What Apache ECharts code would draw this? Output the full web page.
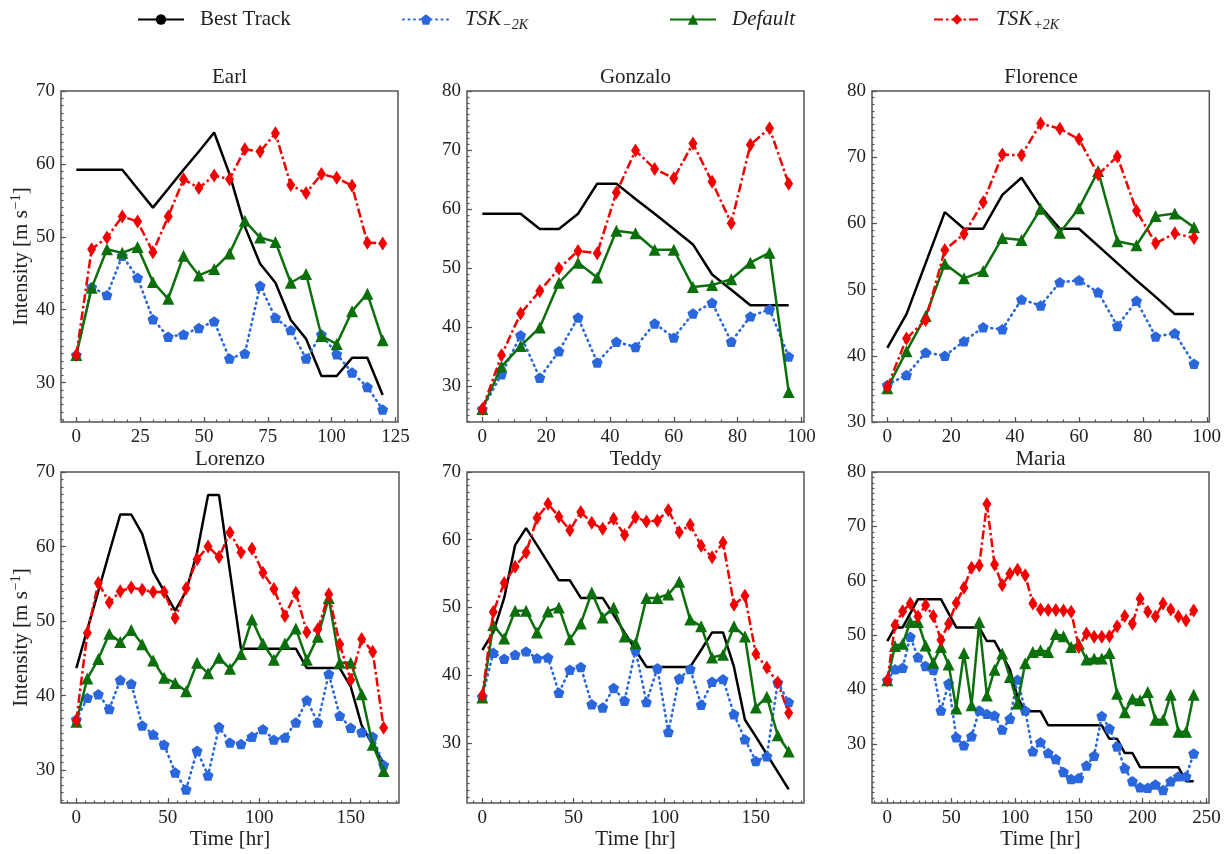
<!DOCTYPE html>
<html>
<head>
<meta charset="utf-8">
<script src="https://cdn.jsdelivr.net/npm/echarts@6.0.0/dist/echarts.min.js"></script>
<style>
  html, body { margin: 0; padding: 0; background: #fff; }
  #chart { width: 1224px; height: 854px; }
</style>
</head>
<body>
<div id="chart"></div>
<script>
// hours between samples
const STEP_HR = 6;

// Earl
const earlTrack = [59.2, 59.2, 59.2, 59.2, 56.6, 54.0, 56.6, 59.2, 61.7, 64.3, 58.6, 51.4, 46.3, 43.7, 38.6, 36.0, 30.9, 30.9, 33.4, 33.4, 28.3];
const earlMinus = [33.8, 43.1, 42.0, 47.4, 44.4, 38.7, 36.3, 36.6, 37.5, 38.4, 33.3, 34.0, 43.3, 38.9, 37.2, 33.3, 36.6, 33.9, 31.4, 29.4, 26.3];
const earlDefault = [33.8, 43.0, 48.3, 47.8, 48.6, 43.8, 41.5, 47.4, 44.7, 45.6, 47.7, 52.2, 49.9, 49.3, 43.7, 44.9, 36.4, 35.3, 39.8, 42.2, 35.8];
const earlPlus = [33.8, 48.3, 49.9, 52.8, 52.1, 47.9, 52.8, 57.9, 56.7, 58.4, 57.9, 62.0, 61.7, 64.2, 57.1, 56.0, 58.6, 58.1, 57.0, 49.2, 49.1];

// Gonzalo
const gonzaloTrack = [59.2, 59.2, 59.2, 56.6, 56.6, 59.2, 64.3, 64.3, 61.7, 59.2, 56.6, 54.0, 48.9, 46.3, 43.7, 43.7, 43.7];
const gonzaloMinus = [26.1, 32.0, 38.6, 31.4, 35.9, 41.6, 34.0, 37.5, 36.6, 40.6, 38.2, 42.3, 44.1, 37.5, 41.8, 43.0, 35.0];
const gonzaloDefault = [26.1, 33.3, 36.8, 39.9, 47.5, 50.9, 48.4, 56.3, 55.9, 53.1, 53.1, 46.8, 47.1, 48.1, 50.9, 52.6, 29.0];
const gonzaloPlus = [26.1, 35.2, 42.3, 46.1, 49.9, 52.9, 52.5, 62.8, 69.9, 66.8, 65.2, 71.1, 64.6, 57.6, 70.9, 73.7, 64.3];

// Florence
const florenceTrack = [41.2, 46.3, 54.0, 61.7, 59.2, 59.2, 64.3, 66.9, 62.5, 59.2, 59.2, 56.6, 54.0, 51.4, 48.9, 46.3, 46.3];
const florenceMinus = [35.6, 37.1, 40.5, 40.0, 42.2, 44.3, 44.0, 48.5, 47.6, 51.1, 51.4, 49.6, 44.5, 48.3, 42.9, 43.4, 38.8];
const florenceDefault = [35.1, 40.7, 46.0, 53.9, 51.7, 52.8, 57.8, 57.5, 62.2, 58.6, 62.3, 67.9, 57.3, 56.7, 61.1, 61.5, 59.4];
const florencePlus = [35.3, 42.6, 45.4, 56.0, 58.4, 63.2, 70.4, 70.3, 75.1, 74.3, 72.7, 67.4, 70.1, 61.9, 57.0, 58.5, 57.8];

// Lorenzo
const lorenzoTrack = [43.7, 48.9, 54.0, 59.2, 64.3, 64.3, 61.7, 56.6, 54.0, 51.4, 54.0, 59.2, 66.9, 66.9, 56.6, 46.3, 46.3, 46.3, 46.3, 46.3, 46.3, 43.7, 43.7, 43.7, 43.7, 41.2, 36.0, 33.4, 30.9];
const lorenzoMinus = [36.8, 39.7, 40.2, 38.2, 42.1, 41.6, 36.0, 34.8, 33.4, 29.7, 27.4, 32.6, 29.3, 35.8, 33.7, 33.5, 34.5, 35.5, 34.1, 34.4, 36.4, 39.4, 36.4, 42.9, 37.3, 35.7, 35.1, 34.5, 30.7];
const lorenzoDefault = [36.5, 42.3, 44.9, 48.3, 47.2, 48.8, 46.9, 44.7, 42.4, 41.7, 40.6, 44.4, 43.0, 45.1, 43.6, 45.6, 50.2, 47.0, 44.8, 47.0, 49.0, 44.8, 47.9, 53.1, 44.4, 44.4, 40.2, 33.4, 29.9];
const lorenzoPlus = [36.7, 48.4, 55.1, 52.5, 54.0, 54.5, 54.2, 53.9, 53.9, 50.4, 54.4, 58.3, 60.0, 58.6, 61.9, 59.2, 59.7, 56.5, 54.3, 50.7, 53.8, 48.5, 48.9, 53.6, 46.9, 42.1, 47.6, 45.9, 35.7];

// Teddy
const teddyTrack = [43.7, 46.3, 51.4, 59.2, 61.7, 59.2, 56.6, 54.0, 54.0, 51.4, 51.4, 51.4, 48.9, 46.3, 43.7, 41.2, 41.2, 41.2, 41.2, 41.2, 43.7, 46.3, 46.3, 41.2, 33.4, 30.9, 28.3, 25.7, 23.1];
const teddyMinus = [36.8, 43.3, 42.4, 43.0, 43.5, 42.5, 42.6, 37.4, 40.8, 41.2, 35.7, 35.2, 38.1, 36.2, 43.7, 36.0, 41.0, 31.6, 39.5, 40.9, 35.6, 39.0, 39.4, 34.2, 30.5, 27.3, 28.0, 38.9, 36.0];
const teddyDefault = [36.7, 47.4, 45.4, 49.5, 49.5, 46.3, 49.4, 50.0, 45.3, 47.6, 52.2, 48.5, 50.0, 45.7, 44.7, 51.4, 51.4, 51.9, 53.8, 48.2, 47.2, 42.6, 43.0, 47.2, 45.7, 35.2, 36.8, 31.1, 28.7];
const teddyPlus = [37.0, 49.3, 53.6, 56.0, 58.1, 63.2, 65.3, 63.4, 61.4, 64.1, 62.5, 61.6, 63.1, 60.7, 63.3, 62.7, 62.8, 64.4, 61.1, 62.2, 59.1, 57.4, 59.6, 50.4, 51.7, 43.1, 41.1, 38.9, 34.4];

// Maria
const mariaTrack = [48.9, 51.4, 51.4, 54.0, 56.6, 56.6, 56.6, 56.6, 54.0, 51.4, 51.4, 51.4, 51.4, 48.9, 48.9, 46.3, 43.7, 38.6, 36.0, 36.0, 36.0, 33.4, 33.4, 33.4, 33.4, 33.4, 33.4, 33.4, 33.4, 30.9, 30.9, 28.3, 28.3, 25.7, 25.7, 25.7, 25.7, 25.7, 25.7, 23.1, 23.1];
const mariaMinus = [41.7, 43.7, 44.0, 49.7, 45.9, 44.3, 43.6, 36.1, 41.1, 31.2, 29.7, 31.4, 36.1, 35.5, 35.2, 32.6, 34.6, 41.8, 36.1, 28.6, 30.3, 28.3, 27.2, 24.8, 23.5, 23.7, 26.0, 27.8, 35.1, 32.8, 29.5, 25.5, 23.1, 22.0, 21.9, 22.5, 21.5, 23.1, 24.0, 24.0, 28.2];
const mariaDefault = [41.7, 48.0, 48.4, 52.4, 52.4, 48.1, 44.9, 47.8, 44.6, 36.5, 46.7, 37.1, 52.4, 38.9, 43.6, 46.6, 42.3, 37.4, 44.8, 46.9, 47.2, 46.9, 50.2, 49.8, 47.8, 48.4, 45.5, 45.7, 45.7, 46.7, 39.2, 35.8, 38.3, 38.0, 39.5, 34.4, 34.4, 39.0, 32.2, 32.2, 39.0];
const mariaPlus = [41.7, 51.8, 54.4, 55.8, 53.4, 55.5, 53.5, 49.1, 52.1, 55.9, 58.7, 62.4, 62.8, 74.1, 63.0, 59.2, 61.3, 62.0, 61.0, 55.8, 54.7, 54.6, 54.6, 54.5, 54.3, 47.8, 50.3, 49.7, 49.7, 49.8, 51.6, 53.5, 52.1, 56.7, 54.3, 53.4, 55.8, 54.7, 53.4, 52.7, 54.5];

// tick labels
const xTicks125 = [0, 25, 50, 75, 100, 125];
const xTicks100 = [0, 20, 40, 60, 80, 100];
const xTicks150 = [0, 50, 100, 150];
const xTicks250 = [0, 50, 100, 150, 200, 250];
const yTicks70 = [30, 40, 50, 60, 70];
const yTicks80 = [30, 40, 50, 60, 70, 80];

const SERIES_NAMES = ['Best Track', 'TSK-2K', 'Default', 'TSK+2K'];

const FONT = '"Liberation Serif", "DejaVu Serif", serif';
const FRAME = '#555';
const PENTAGON = 'path://M0,-1 L0.951,-0.309 L0.588,0.809 L-0.588,0.809 L-0.951,-0.309 Z';

const styles = {
  'Best Track': { color: '#000000', line: { width: 2.5, type: 'solid' }, symbol: 'none', size: 0 },
  'TSK-2K': { color: '#2a66dc', line: { width: 2.6, type: [1, 4.5], cap: 'round' }, symbol: PENTAGON, size: 11 },
  'Default': { color: '#0b6f0b', line: { width: 2.5, type: 'solid' }, symbol: 'triangle', size: 12 },
  'TSK+2K': { color: '#f20000', line: { width: 2.5, type: [9, 3, 2.5, 3] }, symbol: 'diamond', size: [9, 14] },
};

const panels = [
  { title: 'Earl', data: [earlTrack, earlMinus, earlDefault, earlPlus], xTicks: xTicks125, yTicks: yTicks70,
    xr: [-6, 126], yr: [24.6, 70], box: { left: 61, top: 91, width: 337, height: 331 } },
  { title: 'Gonzalo', data: [gonzaloTrack, gonzaloMinus, gonzaloDefault, gonzaloPlus], xTicks: xTicks100, yTicks: yTicks80,
    xr: [-4.8, 100.8], yr: [23.9, 80], box: { left: 467, top: 91, width: 337, height: 331 } },
  { title: 'Florence', data: [florenceTrack, florenceMinus, florenceDefault, florencePlus], xTicks: xTicks100, yTicks: yTicks80,
    xr: [-4.8, 100.8], yr: [30, 80], box: { left: 872, top: 91, width: 338, height: 331 } },
  { title: 'Lorenzo', data: [lorenzoTrack, lorenzoMinus, lorenzoDefault, lorenzoPlus], xTicks: xTicks150, yTicks: yTicks70,
    xr: [-8.4, 176.4], yr: [25.6, 70], box: { left: 61, top: 472, width: 338, height: 331 } },
  { title: 'Teddy', data: [teddyTrack, teddyMinus, teddyDefault, teddyPlus], xTicks: xTicks150, yTicks: yTicks70,
    xr: [-8.4, 176.4], yr: [21.1, 70], box: { left: 467, top: 472, width: 337, height: 331 } },
  { title: 'Maria', data: [mariaTrack, mariaMinus, mariaDefault, mariaPlus], xTicks: xTicks250, yTicks: yTicks80,
    xr: [-12, 252], yr: [19.1, 80], box: { left: 872, top: 472, width: 337, height: 331 } },
];

// minor tick positions
function steps(lo, hi, step) {
  const out = [];
  for (let v = Math.ceil(lo / step) * step; v <= hi + 1e-9; v += step) out.push(+v.toFixed(4));
  return out;
}

const grid = [], xAxis = [], yAxis = [], series = [], title = [];

panels.forEach((p, i) => {
  const left = i % 3 === 0;
  const bottom = i >= 3;
  grid.push(Object.assign({ show: true, borderColor: FRAME, borderWidth: 1.5, containLabel: false }, p.box));
  title.push({
    text: p.title, left: p.box.left + p.box.width / 2, top: p.box.top - (bottom ? 23 : 24), textAlign: 'center', padding: 0,
    textStyle: { fontFamily: FONT, fontSize: 21, fontWeight: 'normal', color: '#222' }
  });

  const tickStyle = { color: FRAME, width: 1.2 };
  // major x
  xAxis.push({
    type: 'value', gridIndex: i, min: p.xr[0], max: p.xr[1], position: 'bottom',
    axisLine: { show: false, onZero: false }, splitLine: { show: false },
    axisTick: { show: true, inside: true, length: 5, lineStyle: tickStyle, customValues: p.xTicks },
    axisLabel: { customValues: p.xTicks, fontFamily: FONT, fontSize: 19, color: '#222', margin: 6 },
    name: bottom ? 'Time [hr]' : '', nameLocation: 'middle', nameGap: 26,
    nameTextStyle: { fontFamily: FONT, fontSize: 21, color: '#222' }
  });
  // minor x
  xAxis.push({
    type: 'value', gridIndex: i, min: p.xr[0], max: p.xr[1], position: 'bottom',
    axisLine: { show: false, onZero: false }, splitLine: { show: false }, axisLabel: { show: false },
    axisTick: { show: true, inside: true, length: 2.5, lineStyle: tickStyle, customValues: steps(p.xr[0], p.xr[1], 5) }
  });
  // major y
  yAxis.push({
    type: 'value', gridIndex: i, min: p.yr[0], max: p.yr[1], position: 'left',
    axisLine: { show: false, onZero: false }, splitLine: { show: false },
    axisTick: { show: true, inside: true, length: 5, lineStyle: tickStyle, customValues: p.yTicks },
    axisLabel: { customValues: p.yTicks, fontFamily: FONT, fontSize: 19, color: '#222', margin: 6 },
    name: left ? 'Intensity [m s{sup|\u22121}]' : '', nameLocation: 'middle', nameGap: 27,
    nameTextStyle: {
      fontFamily: FONT, fontSize: 21, color: '#222',
      rich: { sup: { fontFamily: FONT, fontSize: 14, color: '#222', padding: [0, 0, 10, 1] } }
    }
  });
  // minor y
  yAxis.push({
    type: 'value', gridIndex: i, min: p.yr[0], max: p.yr[1], position: 'left',
    axisLine: { show: false, onZero: false }, splitLine: { show: false }, axisLabel: { show: false },
    axisTick: { show: true, inside: true, length: 2.5, lineStyle: tickStyle, customValues: steps(p.yr[0], p.yr[1], 1) }
  });

  SERIES_NAMES.forEach((name, k) => {
    const s = styles[name];
    series.push({
      name, type: 'line', xAxisIndex: 2 * i, yAxisIndex: 2 * i,
      data: p.data[k].map((v, j) => [j * STEP_HR, v]),
      symbol: s.symbol, symbolSize: s.size, symbolKeepAspect: true, showAllSymbol: true,
      lineStyle: Object.assign({ color: s.color }, s.line),
      itemStyle: { color: s.color, borderWidth: 0 },
      z: 2 + k, animation: false, silent: true
    });
  });
});

// legend entries, one box each so they sit where the reference puts them
const legendLeft = [137, 402, 669, 933];
const legend = SERIES_NAMES.map((name, k) => ({
  data: [name], left: legendLeft[k], top: 9, itemWidth: 46, itemHeight: 13, padding: 0,
  selectedMode: false,
  textStyle: {
    fontFamily: FONT, fontSize: 21, color: '#222', padding: [0, 0, 0, 11],
    rich: {
      n: { fontFamily: FONT, fontSize: 21, color: '#222' },
      i: { fontFamily: FONT, fontSize: 21, fontStyle: 'italic', color: '#222' },
      s: { fontFamily: FONT, fontSize: 14, fontStyle: 'italic', color: '#222', padding: [11, 0, 0, 1] }
    }
  },
  formatter: (n) => {
    if (n === 'TSK-2K') return '{i|TSK}{s|\u22122K}';
    if (n === 'TSK+2K') return '{i|TSK}{s|+2K}';
    if (n === 'Default') return '{i|Default}';
    return '{n|' + n + '}';
  }
}));

const chart = echarts.init(document.getElementById('chart'), null, { renderer: 'canvas' });
chart.setOption({
  backgroundColor: '#fff',
  animation: false,
  title, legend, grid, xAxis, yAxis, series
});
</script>
</body>
</html>
